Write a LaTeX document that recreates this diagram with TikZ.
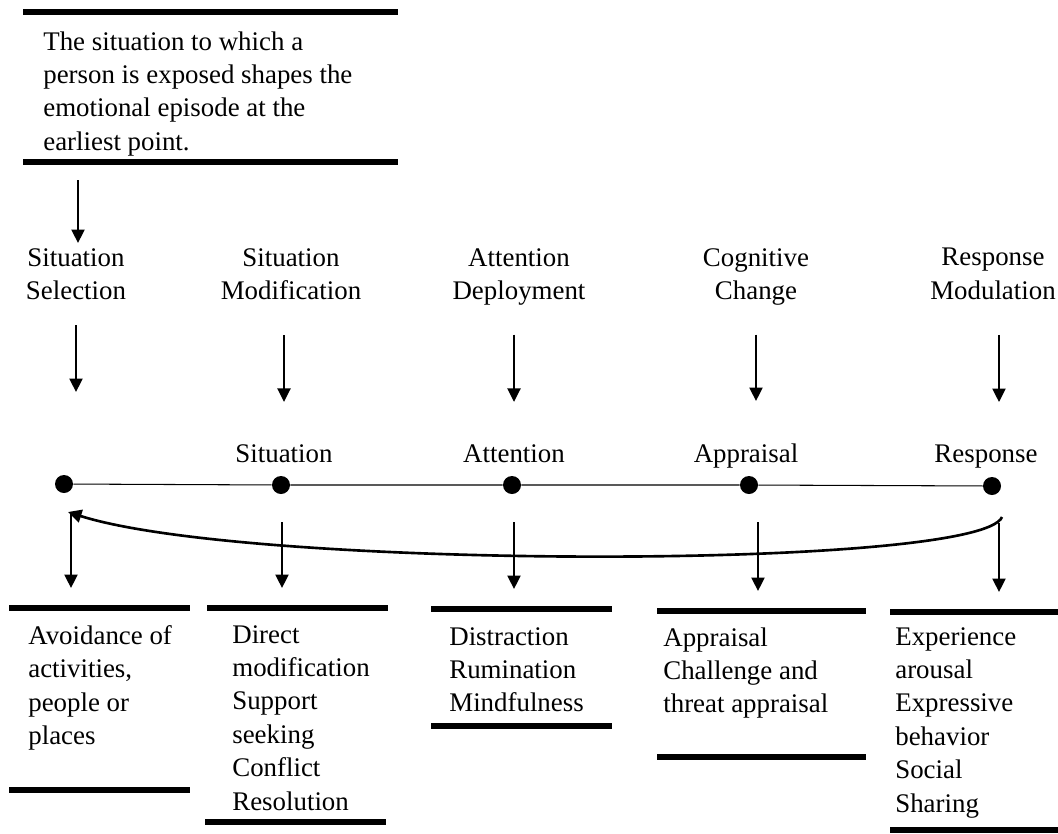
\documentclass[tikz,border=0pt]{standalone}
\usepackage{fontspec}
\setmainfont{Liberation Serif}
\usepackage{tikz}
\usetikzlibrary{arrows.meta,calc,positioning}
\tikzset{stagename/.style={align=center, inner sep=0pt, anchor=north}}
\tikzset{target/.style={inner sep=0pt, anchor=base}}
\tikzset{listbox/.style={align=left, inner sep=0pt, anchor=north west}}
\tikzset{rulebar/.style={line width=3pt}}
\tikzset{stagedot/.style={circle, fill, inner sep=0pt, minimum size=0.36cm}}
\tikzset{track/.style={line width=0.6pt}}
\tikzset{line/.style={draw, line width=1.3pt, -{Triangle[length=0.27cm, width=0.26cm]}}}
\tikzset{feedback/.style={draw, line width=1.5pt, -{Triangle[length=0.27cm, width=0.26cm]}}}

\begin{document}
\begin{tikzpicture}[x=0.02cm, y=-0.02cm, font=\fontsize{15.3}{19}\selectfont]
		\useasboundingbox (0,0) rectangle (1058,833);
		
		% situation box
		\draw[rulebar] (23,12) -- (398,12);
		\draw[rulebar] (23,162) -- (398,162);
		\coordinate (expobar) at (78,162);
		\node [listbox] (expo) at (43,31) {The situation to which a\\person is exposed shapes the\\emotional episode at the\\earliest point.};
		
		% strategies
		\node [stagename] (selec) at (76,248) {Situation\\Selection};
		\node [stagename] (modif) at (291,248) {Situation\\Modification};
		\node [stagename] (deploy) at (519,248) {Attention\\Deployment};
		\node [stagename] (cogch) at (756,248) {Cognitive\\Change};
		\node [stagename] (respmod) at (993,248) {Response\\Modulation};
		\coordinate (selfree) at (76,392);
		
		% process
		\node [target] (sit) at (284,462) {Situation};
		\node [target] (att) at (514,462) {Attention};
		\node [target] (appr) at (746,462) {Appraisal};
		\node [target] (resp) at (986,462) {Response};
		
		\node [stagedot] (d1) at (64,484) {};
		\node [stagedot] (d2) at (281,485) {};
		\node [stagedot] (d3) at (512,485) {};
		\node [stagedot] (d4) at (749,485) {};
		\node [stagedot] (d5) at (992,486) {};
		\draw [track] (d1) -- (d2) -- (d3) -- (d4) -- (d5);
		
		% outcome boxes
		\draw[rulebar] (9,608) -- (190,608);
		\draw[rulebar] (9,790) -- (190,790);
		\draw[rulebar] (207,608) -- (388,608);
		\draw[rulebar] (205,822) -- (386,822);
		\draw[rulebar] (431,609) -- (612,609);
		\draw[rulebar] (431,726) -- (612,726);
		\draw[rulebar] (657,611) -- (866,611);
		\draw[rulebar] (657,757) -- (866,757);
		\draw[rulebar] (890,612) -- (1070,612);
		\draw[rulebar] (890,830) -- (1070,830);
		\coordinate (bar1) at (71,608);
		\coordinate (bar2) at (282,608);
		\coordinate (bar3) at (514,609);
		\coordinate (bar4) at (758,611);
		\coordinate (bar5) at (999,612);
		
		\node [listbox] (avoid) at (28,625) {Avoidance of\\activities,\\people or\\places};
		\node [listbox] (direct) at (232,625) {Direct\\modification\\Support\\seeking\\Conflict\\Resolution};
		\node [listbox] (distr) at (449,627) {Distraction\\Rumination\\Mindfulness};
		\node [listbox] (apprb) at (663,627) {Appraisal\\Challenge and\\threat appraisal};
		\node [listbox] (exper) at (895,627) {Experience\\arousal\\Expressive\\behavior\\Social\\Sharing};
		
		\path [line, shorten <=0.36cm, shorten >=0.1cm] (expobar) -- (expobar |- selec.north);
		\path [line, shorten <=0.5cm] (selec.south) -- (selfree);
		\path [line, shorten <=0.7cm, shorten >=0.84cm] (modif.south -| sit.north) -- (sit.north);
		\path [line, shorten <=0.58cm, shorten >=0.84cm] (deploy.south -| att.north) -- (att.north);
		\path [line, shorten <=0.58cm, shorten >=0.84cm] (cogch.south) -- (cogch.south |- appr.north);
		\path [line, shorten <=0.7cm, shorten >=0.84cm] (respmod.south -| bar5) -- (bar5 |- resp.north);
		
		\path [line, shorten <=0.42cm, shorten >=0.4cm] (d1.south -| bar1) -- (bar1);
		\path [line, shorten <=0.56cm, shorten >=0.4cm] (d2.south -| bar2) -- (bar2);
		\path [line, shorten <=0.56cm, shorten >=0.4cm] (d3.south -| bar3) -- (bar3);
		\path [line, shorten <=0.56cm, shorten >=0.4cm] (d4.south -| bar4) -- (bar4);
		\path [line, shorten <=0.56cm, shorten >=0.4cm] (d5.south -| bar5) -- (bar5);
		
		% feedback
		\coordinate (fbout) at ($(d5)+(10,31)$);
		\coordinate (fbin) at ($(d1)+(4,28)$);
		\path [feedback] (fbout) .. controls ($(fbout)+(-22,53)$) and ($(fbin)+(182,58)$) .. (fbin);
		
		\end{tikzpicture}
\end{document}
